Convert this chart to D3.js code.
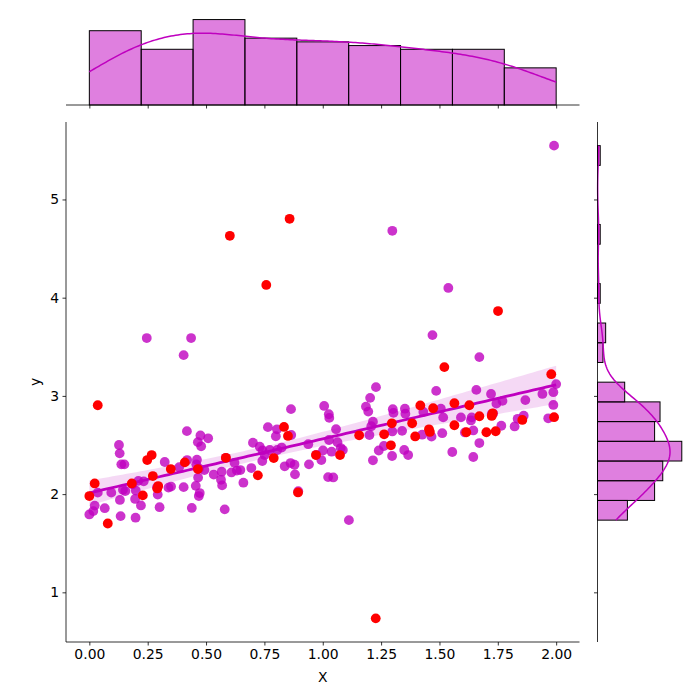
<!DOCTYPE html>
<html><head><meta charset="utf-8">
<script src="https://cdn.jsdelivr.net/npm/d3@7"></script>
<style>
html,body{margin:0;padding:0;background:#fff;}
svg{display:block;font-family:"DejaVu Sans",sans-serif;}
</style></head>
<body><div id="chart"></div>
<script>
// Purple series (regression data) : x values and y values
const purpleX = [0.000,0.023,0.017,0.036,0.066,0.094,0.127,0.130,0.137,0.150,0.131,0.134,0.144,0.154,0.199,0.196,0.221,0.198,0.210,0.233,
0.293,0.301,0.323,0.339,0.350,0.404,0.418,0.439,0.246,0.436,0.404,0.476,0.465,0.479,0.509,0.461,0.458,0.493,0.466,0.456,
0.473,0.469,0.533,0.567,0.564,0.569,0.609,0.632,0.647,0.622,0.580,0.660,0.694,0.701,0.730,0.742,0.751,0.773,0.805,0.824,
0.741,0.765,0.804,0.799,0.865,0.864,0.837,0.862,0.879,0.881,0.938,0.941,1.006,1.026,1.028,1.057,1.027,1.063,1.001,1.038,
1.077,1.086,0.994,1.023,1.045,1.112,1.228,1.203,1.185,1.195,1.215,1.208,1.200,1.300,1.303,1.352,1.354,1.298,1.340,1.240,
1.262,1.215,1.297,1.349,1.366,1.298,1.431,1.486,1.506,1.516,1.426,1.466,1.512,1.555,1.538,1.470,1.592,1.638,1.635,1.609,
1.645,1.671,1.645,1.658,1.721,1.671,1.744,1.770,1.724,1.765,1.822,1.835,1.861,1.868,1.941,1.988,2.000,1.988,1.966,1.991,
0.385,0.419,0.185,0.290,0.470,0.585,0.895,0.972,1.730];
const purpleY = [1.793,1.883,1.827,2.015,1.857,2.015,2.500,2.415,2.303,2.303,1.941,1.776,2.044,2.031,2.036,1.951,1.885,1.760,2.135,2.130,
1.995,1.867,2.327,2.066,2.077,2.071,2.641,1.859,3.589,3.589,3.415,2.597,2.529,2.487,2.568,2.350,2.303,2.245,2.168,2.084,
2.011,1.980,2.199,2.228,2.146,2.089,2.221,2.240,2.245,2.319,1.845,2.116,2.265,2.523,2.483,2.444,2.398,2.449,2.449,2.474,
2.337,2.682,2.660,2.589,2.602,2.865,2.283,2.316,2.299,2.201,2.508,2.303,2.898,2.813,2.776,2.661,2.551,2.528,2.444,2.432,
2.469,2.449,2.347,2.173,2.170,1.735,3.089,2.980,2.891,2.840,2.738,2.691,2.602,2.865,2.827,2.870,2.819,2.638,2.644,2.444,
2.490,2.344,2.388,2.449,2.398,4.681,2.837,3.051,2.870,2.781,2.605,2.585,2.620,2.429,4.099,3.619,2.781,2.781,2.750,2.628,
2.648,2.520,2.378,3.061,3.020,3.395,2.921,2.949,2.816,2.696,2.689,2.767,2.798,2.957,3.020,3.038,3.120,2.908,2.772,5.548,
2.275,2.347,2.100,2.070,2.260,2.370,2.030,2.400,2.820];

// Red series (overlaid points)
const redX = [0.000,0.023,0.036,0.079,0.182,0.229,0.248,0.267,0.272,0.291,0.295,0.349,0.409,0.465,0.585,0.602,0.722,0.758,0.790,0.834,
0.851,0.858,0.894,0.971,1.074,1.156,1.227,1.263,1.292,1.296,1.383,1.396,1.418,1.455,1.459,1.473,1.521,1.564,1.564,1.615,
1.628,1.671,1.701,1.724,1.728,1.741,1.751,1.855,1.979,1.991];
const redY = [1.980,2.109,2.905,1.701,2.109,1.987,2.347,2.398,2.184,2.058,2.082,2.255,2.323,2.255,2.370,4.630,2.191,4.130,2.367,2.684,
2.592,4.803,2.017,2.398,2.398,2.599,0.735,2.609,2.497,2.721,2.721,2.587,2.903,2.660,2.633,2.874,3.293,2.926,2.701,2.630,
2.905,2.793,2.630,2.796,2.823,2.640,3.864,2.755,3.221,2.783];

const xTicks = [0.00,0.25,0.50,0.75,1.00,1.25,1.50,1.75,2.00];
const yTicks = [1,2,3,4,5];
const xLabel = "X", yLabel = "y";
const xBinCount = 9, yBinCount = 19;

const W = 700, H = 700;
const main = {l:66, r:579.5, t:122, b:642};
const margTop = {t:15.3, b:105};
const margRight = {l:597.5, r:686};
const M = "#bf00bf";
const FS = 13.9;

const svg = d3.select("#chart").append("svg").attr("width",W).attr("height",H);

const allX = purpleX.concat(redX), allY = purpleY.concat(redY);
function padExt(a){const e=d3.extent(a);const p=(e[1]-e[0])*0.05;return [e[0]-p,e[1]+p];}
const x = d3.scaleLinear().domain(padExt(allX)).range([main.l, main.r]);
const y = d3.scaleLinear().domain(padExt(allY)).range([main.b, main.t]);

const purple = purpleX.map((v,i)=>({x:v,y:purpleY[i]}));
const red = redX.map((v,i)=>({x:v,y:redY[i]}));

// regression (OLS) with heteroscedasticity-robust 95% band
const n = purple.length;
const mx = d3.mean(purpleX), my = d3.mean(purpleY);
let sxx=0, sxy=0; purple.forEach(d=>{sxx+=(d.x-mx)**2; sxy+=(d.x-mx)*(d.y-my);});
const slope = sxy/sxx, icpt = my - slope*mx;
let se2=0, sde2=0, sd2e2=0;
purple.forEach(d=>{const e=d.y-(icpt+slope*d.x), dc=d.x-mx; se2+=e*e; sde2+=dc*e*e; sd2e2+=dc*dc*e*e;});
const hc = n/(n-2);
const varA = hc*se2/(n*n), varB = hc*sd2e2/(sxx*sxx), covAB = hc*sde2/(n*sxx);
const tval = 1.976;
const xExt = d3.extent(purpleX);
const grid = d3.range(101).map(i=>xExt[0]+(xExt[1]-xExt[0])*i/100);
const band = grid.map(g=>{const yh=icpt+slope*g; const dd=g-mx;
  const se=Math.sqrt(varA+dd*dd*varB+2*dd*covAB); return {x:g,y:yh,lo:yh-tval*se,hi:yh+tval*se};});

const gMain = svg.append("g");
// scatter purple
gMain.selectAll("circle.p").data(purple).enter().append("circle").attr("class","p")
  .attr("cx",d=>x(d.x)).attr("cy",d=>y(d.y)).attr("r",4.9).attr("fill",M).attr("fill-opacity",0.8);
// CI band
gMain.append("path").datum(band).attr("fill",M).attr("fill-opacity",0.15)
  .attr("d",d3.area().x(d=>x(d.x)).y0(d=>y(d.lo)).y1(d=>y(d.hi)));
gMain.append("path").datum(band).attr("fill","none").attr("stroke",M).attr("stroke-width",2.8)
  .attr("d",d3.line().x(d=>x(d.x)).y(d=>y(d.y)));
// red
gMain.selectAll("circle.r").data(red).enter().append("circle").attr("class","r")
  .attr("cx",d=>x(d.x)).attr("cy",d=>y(d.y)).attr("r",4.9).attr("fill","#ff0000");

// axes main
const xAxis = svg.append("g").attr("transform",`translate(0,${main.b})`)
  .call(d3.axisBottom(x).tickValues(xTicks).tickFormat(d3.format(".2f")).tickSizeOuter(0).tickSize(3.5).tickPadding(3.5));
const yAxis = svg.append("g").attr("transform",`translate(${main.l},0)`)
  .call(d3.axisLeft(y).tickValues(yTicks).tickFormat(d3.format("d")).tickSizeOuter(0).tickSize(3.5).tickPadding(3.5));
[xAxis,yAxis].forEach(a=>{a.selectAll("text").attr("font-size",FS).attr("font-family","DejaVu Sans").attr("fill","#000");
  a.selectAll("line").attr("stroke","#000").attr("stroke-width",0.8);
  a.select(".domain").attr("stroke","#000").attr("stroke-width",0.8);});
xAxis.select(".domain").attr("d",`M${main.l},0H${main.r}`);
yAxis.select(".domain").attr("d",`M0,${main.t}V${main.b}`);
svg.append("text").attr("x",(main.l+main.r)/2).attr("y",682).attr("text-anchor","middle")
  .attr("font-size",FS).text(xLabel);
svg.append("text").attr("transform",`translate(40,${(main.t+main.b)/2}) rotate(-90)`).attr("text-anchor","middle")
  .attr("font-size",FS).text(yLabel);

// KDE helper
function kde(data, lo, hi, scaleCount){
  const nn=data.length, sd=d3.deviation(data), h=sd*Math.pow(nn,-1/5);
  return d3.range(201).map(i=>{const v=lo+(hi-lo)*i/200; let sum=0;
    data.forEach(d=>{const z=(v-d)/h; sum+=Math.exp(-0.5*z*z);});
    return {v, c: sum/(nn*h*Math.sqrt(2*Math.PI))*scaleCount};});
}

// top marginal histogram
const xe = d3.extent(purpleX);
const xThr = d3.range(1,xBinCount).map(i=>xe[0]+(xe[1]-xe[0])*i/xBinCount);
const xBins = d3.bin().domain(xe).thresholds(xThr)(purpleX);
const xMaxC = d3.max(xBins,b=>b.length);
const cTop = d3.scaleLinear().domain([0,xMaxC*1.05]).range([margTop.b, margTop.t]);
const gTop = svg.append("g");
gTop.selectAll("rect").data(xBins).enter().append("rect")
  .attr("x",b=>x(b.x0)).attr("width",b=>x(b.x1)-x(b.x0))
  .attr("y",b=>cTop(b.length)).attr("height",b=>margTop.b-cTop(b.length))
  .attr("fill",M).attr("fill-opacity",0.5).attr("stroke","#000").attr("stroke-width",1);
const xbw = (xe[1]-xe[0])/xBinCount;
gTop.append("path").datum(kde(purpleX,xe[0],xe[1],n*xbw)).attr("fill","none").attr("stroke",M).attr("stroke-width",1.5)
  .attr("d",d3.line().x(d=>x(d.v)).y(d=>cTop(d.c)));
const topAxis = svg.append("g").attr("transform",`translate(0,${margTop.b})`)
  .call(d3.axisBottom(x).tickValues(xTicks).tickFormat("").tickSizeOuter(0).tickSize(3.5));
topAxis.selectAll("line").attr("stroke","#000").attr("stroke-width",0.8);
topAxis.select(".domain").attr("d",`M${main.l},0H${main.r}`).attr("stroke","#000").attr("stroke-width",0.8);

// right marginal histogram
const ye = d3.extent(purpleY);
const yThr = d3.range(1,yBinCount).map(i=>ye[0]+(ye[1]-ye[0])*i/yBinCount);
const yBins = d3.bin().domain(ye).thresholds(yThr)(purpleY);
const yMaxC = d3.max(yBins,b=>b.length);
const cRight = d3.scaleLinear().domain([0,yMaxC*1.05]).range([margRight.l, margRight.r]);
const gRight = svg.append("g");
gRight.selectAll("rect").data(yBins.filter(b=>b.length>0)).enter().append("rect")
  .attr("y",b=>y(b.x1)).attr("height",b=>y(b.x0)-y(b.x1))
  .attr("x",margRight.l).attr("width",b=>cRight(b.length)-margRight.l)
  .attr("fill",M).attr("fill-opacity",0.5).attr("stroke","#000").attr("stroke-width",1);
const ybw = (ye[1]-ye[0])/yBinCount;
gRight.append("path").datum(kde(purpleY,ye[0],ye[1],n*ybw)).attr("fill","none").attr("stroke",M).attr("stroke-width",1.5)
  .attr("d",d3.line().x(d=>cRight(d.c)).y(d=>y(d.v)));
const rightAxis = svg.append("g").attr("transform",`translate(${margRight.l},0)`)
  .call(d3.axisLeft(y).tickValues(yTicks).tickFormat("").tickSizeOuter(0).tickSize(3.5));
rightAxis.selectAll("line").attr("stroke","#000").attr("stroke-width",0.8);
rightAxis.select(".domain").attr("d",`M0,${main.t}V${main.b}`).attr("stroke","#000").attr("stroke-width",0.8);
</script>
</body></html>
